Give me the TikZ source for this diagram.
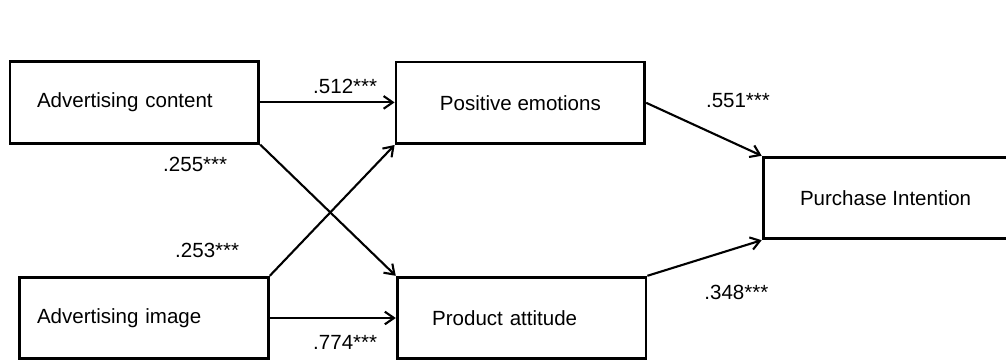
\documentclass[tikz,border=0pt]{standalone}
\usepackage{fontspec}
\setmainfont{Liberation Sans}
\usepackage{tikz}
\usetikzlibrary{arrows.meta, positioning}
\newcommand{\boxwidth}{6.22cm}
\newcommand{\boxheight}{2.04cm}
\tikzset{>={Straight Barb[length=6.5pt,width=9pt]}}
\tikzset{box/.style={draw, line width=2pt, minimum width=\boxwidth, minimum height=\boxheight, font=\fontsize{14.6}{17}\selectfont},
	leftbox/.style 2 args={box, align=left, inner xsep=#1, text width=#2},
	coef/.style={font=\fontsize{14.6}{17}\selectfont},
	link/.style={->, line width=1.5pt}}

\begin{document}
\begin{tikzpicture}
	\useasboundingbox (0,0) rectangle (25.15,9);

	% variables
	\node[leftbox={0.675cm}{4.87cm}] (content) at (3.36,6.44) {Advertising content};
	\node[leftbox={0.425cm}{5.35cm}] (image) at (3.6,1.05) {Advertising image};
	\node[box] (emotion) at (13.01,6.43) {Positive emotions};
	\node[leftbox={0.875cm}{4.47cm}] (attitude) at (13.04,1.05) {Product attitude};
	\node[box, minimum width=6.125cm] (intention) at (22.14,4.05) {Purchase Intention};

	% paths
	\draw[link] (content.east) -- (content.east -| emotion.west);
	\draw[link] (content.south east) -- (attitude.north west);
	\draw[link] (image.north east) -- (emotion.south west);
	\draw[link] (image.east) -- (image.east -| attitude.west);
	\draw[link] (emotion.east) -- (intention.north west);
	\draw[link] (attitude.north east) -- (intention.south west);

	% coefficients
	\node[coef] (w1) at (8.63,6.83) {.512***};
	\node[coef] (w2) at (4.88,4.88) {.255***};
	\node[coef] (w3) at (5.18,2.73) {.253***};
	\node[coef] (w4) at (8.63,0.43) {.774***};
	\node[coef] (w5) at (18.45,6.48) {.551***};
	\node[coef] (w6) at (18.41,1.68) {.348***};
\end{tikzpicture}
\end{document}
